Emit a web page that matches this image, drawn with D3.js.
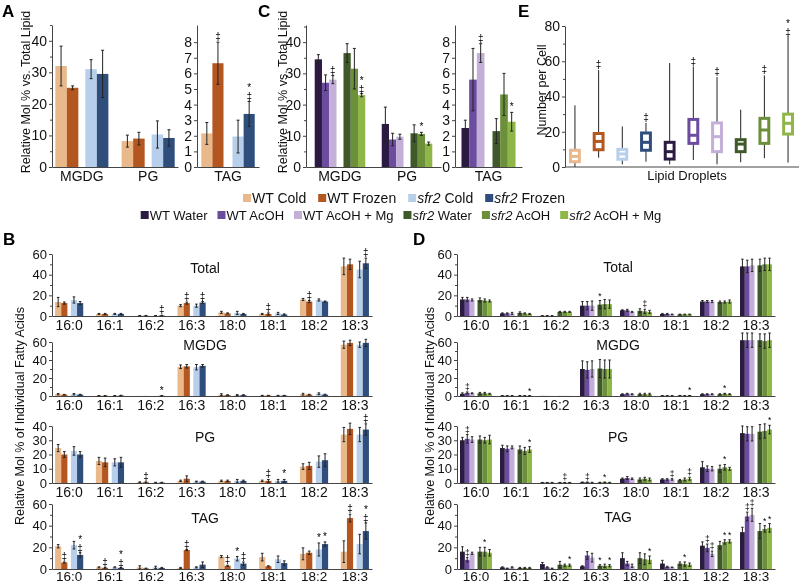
<!DOCTYPE html>
<html><head><meta charset="utf-8">
<script src="https://cdn.jsdelivr.net/npm/d3@7"></script>
<style>
body{margin:0;background:#fff;}
svg{font-family:"Liberation Sans",Arial,Helvetica,sans-serif;will-change:transform;}
</style></head><body>
<svg id="c" width="799" height="585"></svg>
<script>
// ================= DATA =================
const seriesFrozen = ["WT Cold","WT Frozen","sfr2 Cold","sfr2 Frozen"];
const colorsFrozen = ["#E9B98C","#B4561F","#B7CFEB","#2F4E7C"];
const seriesAcoh = ["WT Water","WT AcOH","WT AcOH + Mg","sfr2 Water","sfr2 AcOH","sfr2 AcOH + Mg"];
const colorsAcoh = ["#2B1B42","#6C4C9E","#C3AFD7","#40592A","#6B8F3B","#8EB648"];

// Panel A
const catsA1 = ["MGDG","PG"];
const valsA1 = [[32,25.1,31,29.5],[8.2,9,10.3,9.2]];
const errA1  = [[6.3,0.6,3,7.5],[1.9,2,4.3,2.6]];
const markA1 = [["","","",""],["","","",""]];
const catsA2 = ["TAG"];
const valsA2 = [[2.15,6.65,1.95,3.4]];
const errA2  = [[0.7,1.35,1.05,0.8]];
const markA2 = [["","‡","","*‡"]];

// Panel C
const catsC1 = ["MGDG","PG"];
const valsC1 = [[34.5,27,28,36.5,31.5,23],[13.8,8.8,9.7,10.8,10.6,7.5]];
const errC1  = [[1.5,2.5,1.3,3,6.5,0.5],[5.4,2,0.8,2.7,0.5,0.5]];
const markC1 = [["","","‡","","","*‡"],["","","","","*",""]];
const catsC2 = ["TAG"];
const valsC2 = [[2.5,5.6,7.3,2.3,4.65,2.9]];
const errC2  = [[0.5,2,0.6,0.8,1.35,0.6]];
const markC2 = [["","","‡","","","*"]];

// Panel E (box plots)
const boxMin = [0,5.3,1.5,3,1.5,4,1.5,2.7,5,2.5];
const boxQ1  = [3,9.8,4.4,9.5,4.5,13.4,8.7,8.7,13.4,18.7];
const boxMed = [6,14.5,7.4,14,8.7,18,17.2,13,21,24.8];
const boxQ3  = [9.5,19,10,19.3,14,27,25,15.5,27.6,30];
const boxMax = [35,55,23,25,59,57,51,32.5,52,74];
const boxMark = ["","‡","","‡","","‡","‡","","‡","*‡"];
const boxColors = colorsFrozen.concat(colorsAcoh);

// Panels B & D
const fattyAcids = ["16:0","16:1","16:2","16:3","18:0","18:1","18:2","18:3"];

const valsBTotal = [[13.5,12.5,15.5,12.5],[2,2,2,2],[0.3,0.3,0.3,0.5],[10,12.5,10,13],[3.5,2.5,3,2],[2,2,2.5,1.5],[16,14,15.5,14],[48,50,45,51]];
const errBTotal  = [[4.5,1,3,1.5],[0.5,0.5,0.5,0.5],[0.2,0.2,0.2,0.2],[1,1,1.5,1],[1,0.5,1.5,0.5],[0.5,1,1,0.5],[1,1,1,0.5],[8,5,8,5]];
const markBTotal = [["","","",""],["","","",""],["","","","‡"],["","‡","","‡"],["","","",""],["","‡","",""],["","‡","",""],["","","","‡"]];

const valsBMGDG = [[2,1.5,2,1.5],[0.3,0.3,0.3,0.5],[0.1,0.1,0.1,0.3],[32.5,33,32,33.5],[1.5,1,1,1],[0.5,0.5,0.5,0.5],[2,1.5,2.5,1.5],[57,59,57,59]];
const errBMGDG  = [[0.7,0.3,0.7,0.4],[0.2,0.2,0.2,0.3],[0,0,0,0.2],[2,2,3,1.5],[1,0.4,0.5,0.4],[0.2,0.2,0.2,0.2],[1,0.4,1,0.5],[4,3,3,4]];
const markBMGDG = [["","","",""],["","","",""],["","","","*"],["","","",""],["","","",""],["","","",""],["","","",""],["","","",""]];

const valsBPG = [[24.5,20,22.5,20],[15.5,14.5,14.5,14.5],[0.5,0.5,0.3,0.3],[1.5,3,1,1],[1.5,1.5,1.5,1.5],[1.5,1.5,1.5,1.5],[11.5,12,15,16],[34,38,34,37.5]];
const errBPG  = [[2.5,2,3,2],[2.5,3,2.5,3.5],[0.3,0.3,0.2,0.2],[0.5,2,0.3,0.3],[0.5,0.5,1,0.5],[0.5,1,1,1],[2,2.5,4,4.5],[5,4,5,4]];
const markBPG = [["","","",""],["","","",""],["","‡","",""],["","","",""],["","","",""],["","‡","","*"],["","","",""],["","","","‡"]];

const valsBTAG = [[21,6,22,13],[1.5,1,1.5,1],[1.5,0.5,1.5,1],[1,17.5,1.5,4],[11.5,3,9.5,5],[11,2.5,9,5.5],[14,15,18,23],[16,47,23,35]];
const errBTAG  = [[1.5,0.5,3.5,2],[0.5,0.3,0.5,0.3],[1.5,0.3,1,0.5],[0.5,0.5,0.5,2.5],[1,0.5,2,1.5],[3.5,0.5,3,2],[5.5,1.5,6,2],[10,3.5,9,7.5]];
const markBTAG = [["","‡","","*‡"],["","‡","","*‡"],["","","",""],["","‡","",""],["","‡","*","‡"],["","","",""],["","","*","*"],["","‡","","*‡"]];

const valsDTotal = [[16,16,15.5,15.5,15,14.5],[2.5,2.5,2.5,3,2.5,2],[0.2,0.2,0.2,4,4,4],[10,10,10,11,11.5,11.5],[5.5,5.5,4,5,4.5,4],[2,2,1.5,1.5,1.5,1.5],[14,14,14,13.5,13.5,14],[48,48,49,49,50,50]];
const errDTotal  = [[2,2,1,2,1.5,1],[0.5,0.5,1,1,0.5,0.5],[0.1,0.1,0.1,0.5,0.5,0.5],[4,4,4.5,4,4.5,4],[0.5,1,0.5,2,2,1.5],[0.5,0.5,0.3,0.3,0.3,0.3],[1,1,1,1,1,1.5],[7,6,6,6,6,6]];
const markDTotal = [["","","","","",""],["","","","","",""],["","","","","",""],["","","","*","",""],["","","","","‡",""],["","","","","",""],["","","","","",""],["","","","","",""]];

const valsDMGDG = [[2.5,3.5,3,3,3,2.5],[0.3,0.3,0.3,0.3,0.3,0.3],[0.1,0.1,0.1,0.1,0.1,0.1],[30,29,30,30.5,30,30],[2,2.5,2,2,2,2],[0.3,0.3,0.3,0.5,0.3,0.5],[2,2,2,2,2.5,2],[62,62,62,62,61,62]];
const errDMGDG  = [[1,1,0.5,1,1,0.5],[0.1,0.1,0.1,0.1,0.1,0.1],[0,0,0,0,0,0],[9,9,9,10,10,10],[0.5,0.5,0.5,1,1,1],[0.1,0.1,0.1,0.1,0.1,0.1],[0.5,0.5,0.5,0.5,0.5,0.5],[8,8,8,7,8,8]];
const markDMGDG = [["","‡","","","",""],["","","","","","*"],["","","","","",""],["","","","","",""],["","","","","",""],["","","","","","*"],["","","","","*",""],["","","","","",""]];

const valsDPG = [[30,31,30.5,30.5,30,30.5],[24.5,24,25,23.5,22.5,23.5],[0.3,0.3,0.3,0.3,0.3,0.3],[0.5,0.5,0.3,0.3,0.5,0.3],[3,3.5,3,2.5,3,2.5],[2.5,2.5,2.5,2,2.5,3],[11,10,10,10,11,10],[35,34.5,34.5,36,36.5,37.5]];
const errDPG  = [[2,3,2,2.5,2,3],[2,2,1,2.5,2.5,2],[0.1,0.1,0.1,0.1,0.1,0.1],[0.2,0.2,0.2,0.2,0.2,0.2],[0.5,1,0.5,1,1,1],[0.5,0.5,0.5,0.5,1,1],[4,2,1.5,2.5,2,1],[5,5,5,5,5,3]];
const markDPG = [["","‡","","","",""],["","","","","","*"],["","","","","‡",""],["","‡","","","*",""],["","","","","",""],["","","‡","","","‡"],["","","","","*",""],["","","","","","*"]];

const valsDTAG = [[16,8.5,14.5,16,16,15],[1.5,0.5,1.5,1,1,1],[4.5,1.5,0.5,4,3.5,3.5],[2.5,12.5,10.5,3,3,3],[10,5,3,10,9,8.5],[5,2,1.5,5,4.5,4],[21.5,19.5,14,22,25,25.5],[34,48.5,50,35,37,38]];
const errDTAG  = [[4.5,2,1,4,4,3],[0.5,0.3,0.5,0.5,0.5,0.5],[1.5,0.5,0.3,3,1,1],[0.5,3.5,4,1,1.5,1],[5,2,1.5,5,5,3.5],[3,0.5,0.3,1.5,2,1.5],[3.5,3.5,2.5,3.5,2,1.5],[4.5,4,6,7,3,4]];
const markDTAG = [["","‡","","","*",""],["","","","","",""],["","","","","","*"],["","","","*","","*"],["","","","","","*"],["","","","","*",""],["","‡","‡","","*","*"],["","‡","‡","","*","*"]];

// ================= DRAWING =================
const svg = d3.select("#c");
svg.append("rect").attr("width",799).attr("height",585).attr("fill","#fff");
const AX = "#444", TXT = "#111";

function styleAxis(g, size){
  g.attr("font-family", null).attr("font-size", null);
  g.selectAll("text").attr("font-size", size).attr("fill", TXT);
  g.selectAll("path.domain, line").attr("stroke", AX);
}

// significance marks: a single text; stacked marks use vertical upright writing
function drawMarks(g, cx, ytop, s, size){
  if (s.length === 1) {
    g.append("text").attr("x", cx).attr("y", ytop - 2).attr("text-anchor","middle")
      .attr("font-size", size).attr("fill", "#000").text(s);
  } else {
    g.append("text").attr("x", cx).attr("y", ytop - 1)
      .attr("writing-mode","tb").style("text-orientation","upright")
      .attr("text-anchor","end").attr("letter-spacing", -2)
      .attr("font-size", size).attr("fill", "#000").text(s);
  }
}

function barChart(o){
  const g = svg.append("g");
  const x = d3.scaleBand().domain(o.cats).range([o.x0, o.x1]).paddingInner(o.pi).paddingOuter(o.po);
  const n = o.colors.length, half = n/2;
  const bw = (x.bandwidth() - o.gap) / n;
  const sub = d3.scaleBand().domain(d3.range(n)).range([0, bw*n]);
  const xi = i => sub(i) + (i >= half ? o.gap : 0);
  const y = d3.scaleLinear().domain([0, o.dmax]).range([o.y0, o.yTop]);
  if (o.minor) {
    g.append("g").attr("transform",`translate(${o.x0},0)`)
      .call(d3.axisLeft(y).tickValues(o.minor).tickSize(2).tickFormat(""))
      .call(a => { a.select(".domain").remove(); a.selectAll("line").attr("stroke", AX); });
  }
  const ya = g.append("g").attr("transform",`translate(${o.x0},0)`)
    .call(d3.axisLeft(y).tickValues(o.ticks).tickSize(3).tickSizeOuter(0).tickPadding(2));
  styleAxis(ya, o.tickSize);
  const xa = g.append("g").attr("transform",`translate(0,${o.y0})`)
    .call(d3.axisBottom(x).tickSize(0).tickSizeOuter(0).tickPadding(o.catPad));
  styleAxis(xa, o.catSize);
  // bars
  o.cats.forEach((c, ci) => {
    g.selectAll(null).data(o.vals[ci]).enter().append("rect")
      .attr("x", (v, si) => x(c) + xi(si))
      .attr("y", v => y(v))
      .attr("width", bw)
      .attr("height", v => y(0) - y(v))
      .attr("fill", (v, si) => o.colors[si]);
  });
  // error bars + marks
  const cap = o.cap;
  o.cats.forEach((c, ci) => {
    o.vals[ci].forEach((v, si) => {
      const e = o.errs[ci][si];
      const cx = x(c) + xi(si) + bw/2;
      const yt = y(v + e), yb = y(Math.max(0, v - e));
      if (e > 0) {
        g.append("line").attr("x1",cx).attr("x2",cx).attr("y1",yt).attr("y2",yb).attr("stroke","#222").attr("stroke-width",1);
        g.append("line").attr("x1",cx-cap).attr("x2",cx+cap).attr("y1",yt).attr("y2",yt).attr("stroke","#222").attr("stroke-width",1);
        g.append("line").attr("x1",cx-cap).attr("x2",cx+cap).attr("y1",yb).attr("y2",yb).attr("stroke","#222").attr("stroke-width",1);
      }
      const m = o.marks[ci][si];
      if (m) drawMarks(g, cx, yt, m, o.markSize);
    });
  });
  if (o.title) {
    g.append("text").attr("x", o.titleX).attr("y", o.titleY).attr("text-anchor","middle")
      .attr("font-size", 14).attr("fill", TXT).text(o.title);
  }
}

function yLabel(x, y, text, size){
  svg.append("text").attr("transform",`translate(${x},${y}) rotate(-90)`)
    .attr("text-anchor","middle").attr("dy","0.35em").attr("font-size", size).attr("fill", TXT).text(text);
}
function panelLetter(x, y, t){
  svg.append("text").attr("x",x).attr("y",y).attr("font-size",17).attr("font-weight","bold").attr("fill","#000").text(t);
}

// ---- Panel A ----
panelLetter(2, 17, "A");
yLabel(26, 92, "Relative Mol % vs. Total Lipid", 12.5);
barChart({cats:catsA1, vals:valsA1, errs:errA1, marks:markA1, colors:colorsFrozen,
  x0:52, x1:178, pi:0.2, po:0.05, gap:7, y0:167, yTop:25, dmax:45,
  ticks:[0,10,20,30,40], minor:d3.range(5,46,10), tickSize:14, catSize:14, catPad:4, cap:1.5, markSize:10});
barChart({cats:catsA2, vals:valsA2, errs:errA2, marks:markA2, colors:colorsFrozen,
  x0:197, x1:259, pi:0, po:0.08, gap:9, y0:167, yTop:25, dmax:9.1,
  ticks:d3.range(0,9), tickSize:14, catSize:14, catPad:4, cap:1.5, markSize:10});

// ---- Panel C ----
panelLetter(258, 17, "C");
yLabel(283, 92, "Relative Mol % vs. Total Lipid", 12.5);
barChart({cats:catsC1, vals:valsC1, errs:errC1, marks:markC1, colors:colorsAcoh,
  x0:306, x1:441, pi:0.246, po:0.13, gap:7, y0:167, yTop:25, dmax:45.5,
  ticks:[0,10,20,30,40], minor:d3.range(5,46,10), tickSize:14, catSize:14, catPad:4, cap:1.5, markSize:10});
barChart({cats:catsC2, vals:valsC2, errs:errC2, marks:markC2, colors:colorsAcoh,
  x0:455, x1:522, pi:0, po:0.12, gap:8, y0:167, yTop:25, dmax:9.1,
  ticks:d3.range(0,9), tickSize:14, catSize:14, catPad:4, cap:1.5, markSize:10});

// ---- Panel E ----
panelLetter(518, 17, "E");
yLabel(542, 90, "Number per Cell", 12.5);
(function(){
  const g = svg.append("g");
  const idx = d3.range(boxMed.length);
  const x = d3.scaleBand().domain(idx).range([565, 798]).paddingInner(0.5).paddingOuter(0.17);
  const y = d3.scaleLinear().domain([0, 80]).range([167, 26]);
  g.append("g").attr("transform","translate(565,0)")
    .call(d3.axisLeft(y).tickValues([10,30,50,70]).tickSize(2).tickFormat(""))
    .call(a => { a.select(".domain").remove(); a.selectAll("line").attr("stroke", AX); });
  const ya = g.append("g").attr("transform","translate(565,0)")
    .call(d3.axisLeft(y).tickValues([0,20,40,60,80]).tickSize(3).tickSizeOuter(0).tickPadding(2));
  styleAxis(ya, 14);
  g.append("line").attr("x1",565).attr("x2",799).attr("y1",y(0)).attr("y2",y(0)).attr("stroke",AX);
  const bw = x.bandwidth();
  idx.forEach(i => {
    const cx = x(i) + bw/2;
    g.append("line").attr("x1",cx).attr("x2",cx).attr("y1",y(boxMax[i])).attr("y2",y(boxQ3[i])).attr("stroke","#222");
    g.append("line").attr("x1",cx).attr("x2",cx).attr("y1",y(boxQ1[i])).attr("y2",y(boxMin[i])).attr("stroke","#222");
    g.append("rect").attr("x", x(i)+1.5).attr("y", y(boxQ3[i])).attr("width", bw-3)
      .attr("height", y(boxQ1[i]) - y(boxQ3[i])).attr("fill","#fff")
      .attr("stroke", boxColors[i]).attr("stroke-width",3);
    g.append("line").attr("x1",x(i)+1.5).attr("x2",x(i)+bw-1.5).attr("y1",y(boxMed[i])).attr("y2",y(boxMed[i]))
      .attr("stroke", boxColors[i]).attr("stroke-width",3);
    if (boxMark[i]) drawMarks(g, cx, y(boxMax[i]), boxMark[i], 10);
  });
  g.append("text").attr("x",687).attr("y",180).attr("text-anchor","middle").attr("font-size",13)
    .attr("fill",TXT).text("Lipid Droplets");
})();

// ---- Legends ----
function legendRow(items, colors, cy, cx, fs, gapW){
  const g = svg.append("g");
  const parts = [];
  items.forEach((name, i) => {
    const it = g.append("g");
    it.append("rect").attr("x",0).attr("y",-4).attr("width",8).attr("height",8).attr("fill",colors[i]);
    const t = it.append("text").attr("x",9).attr("y",5).attr("font-size",fs).attr("fill",TXT);
    if (name.startsWith("sfr2")) {
      t.append("tspan").attr("font-style","italic").text("sfr2");
      t.append("tspan").text(name.slice(4));
    } else t.text(name);
    parts.push({it, w: 9 + t.node().getComputedTextLength()});
  });
  const total = d3.sum(parts, p => p.w) + gapW*(parts.length-1);
  let cur = cx - total/2;
  parts.forEach(p => { p.it.attr("transform",`translate(${cur},${cy})`); cur += p.w + gapW; });
}
legendRow(seriesFrozen, colorsFrozen, 198, 404, 14, 12);
legendRow(seriesAcoh, colorsAcoh, 215, 401, 13, 10);

// ---- Panel B ----
panelLetter(3, 245, "B");
yLabel(20, 416, "Relative Mol % of Individual Fatty Acids", 12.5);
const bBase = {cats:fattyAcids, colors:colorsFrozen, x0:52, x1:372, pi:0.31, po:0.075, gap:3.5,
  tickSize:13, catSize:14, catPad:4, cap:1.3, markSize:10, titleX:205};
barChart(Object.assign({}, bBase, {vals:valsBTotal, errs:errBTotal, marks:markBTotal, y0:316, yTop:254, dmax:60,
  ticks:[0,20,40,60], minor:[10,30,50], title:"Total", titleY:273}));
barChart(Object.assign({}, bBase, {vals:valsBMGDG, errs:errBMGDG, marks:markBMGDG, y0:396, yTop:342, dmax:60,
  ticks:[0,20,40,60], minor:[10,30,50], title:"MGDG", titleY:350}));
barChart(Object.assign({}, bBase, {vals:valsBPG, errs:errBPG, marks:markBPG, y0:483, yTop:426, dmax:40,
  ticks:[0,10,20,30,40], title:"PG", titleY:442}));
barChart(Object.assign({}, bBase, {vals:valsBTAG, errs:errBTAG, marks:markBTAG, y0:569, yTop:504, dmax:60,
  ticks:[0,20,40,60], minor:[10,30,50], title:"TAG", titleY:523, catPad:2, catSize:13.5}));

// ---- Panel D ----
panelLetter(413, 245, "D");
yLabel(430, 416, "Relative Mol % of Individual Fatty Acids", 12.5);
const dBase = {cats:fattyAcids, colors:colorsAcoh, x0:457, x1:775, pi:0.2, po:0.075, gap:3,
  tickSize:13, catSize:14, catPad:4, cap:1.2, markSize:8.5, titleX:618};
barChart(Object.assign({}, dBase, {vals:valsDTotal, errs:errDTotal, marks:markDTotal, y0:316, yTop:254, dmax:60,
  ticks:[0,20,40,60], minor:[10,30,50], title:"Total", titleY:272}));
barChart(Object.assign({}, dBase, {vals:valsDMGDG, errs:errDMGDG, marks:markDMGDG, y0:396, yTop:342, dmax:60,
  ticks:[0,20,40,60], minor:[10,30,50], title:"MGDG", titleY:350}));
barChart(Object.assign({}, dBase, {vals:valsDPG, errs:errDPG, marks:markDPG, y0:483, yTop:426, dmax:40,
  ticks:[0,10,20,30,40], title:"PG", titleY:442}));
barChart(Object.assign({}, dBase, {vals:valsDTAG, errs:errDTAG, marks:markDTAG, y0:569, yTop:504, dmax:60,
  ticks:[0,20,40,60], minor:[10,30,50], title:"TAG", titleY:522, catPad:2, catSize:13.5}));
</script>
</body></html>
